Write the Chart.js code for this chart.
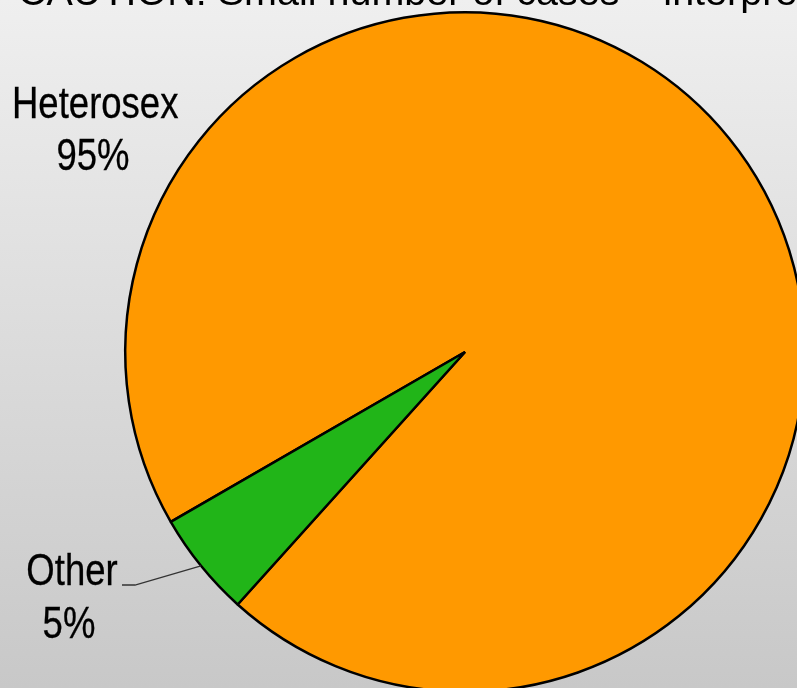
<!DOCTYPE html>
<html>
<head>
<meta charset="utf-8">
<script src="https://cdn.jsdelivr.net/npm/chart.js@4/dist/chart.umd.min.js"></script>
<style>
    html, body {
        margin: 0;
        padding: 0;
        width: 797px;
        height: 688px;
        overflow: hidden;
    }
    body {
        position: relative;
        background: linear-gradient(to bottom, #efefef 0%, #c8c8c8 100%);
        font-family: "Liberation Sans", Arial, sans-serif;
        color: #000;
    }
    #wrap {
        position: absolute;
        left: 0;
        top: 0;
        width: 820px;
        height: 700px;
    }
    .title {
        position: absolute;
        left: 18px;
        top: -28px;
        font-size: 39.5px;
        line-height: 39.5px;
        white-space: nowrap;
    }
    .lbl {
        position: absolute;
        width: 200px;
        text-align: center;
        font-size: 44px;
        line-height: 44px;
        white-space: nowrap;
        transform: scaleX(0.83);
        transform-origin: center;
        -webkit-text-stroke: 0.3px #000;
    }
</style>
</head>
<body>
<div id="wrap"><canvas id="pieChart"></canvas></div>
<div class="title">CAUTION: Small number of cases – interpret with caution</div>
<div class="lbl" id="lblName0" style="left:-5.5px; top:80.5px;"></div>
<div class="lbl" id="lblPct0" style="left:-7px; top:132.5px;"></div>
<div class="lbl" id="lblName1" style="left:-28px; top:547.5px;"></div>
<div class="lbl" id="lblPct1" style="left:-31px; top:600.5px;"></div>
<script>
// données du graphique
const categories = ['Heterosex', 'Other'];
const values = [95, 5];
const colors = ['#ff9900', '#21b518'];

// étiquettes (nom + pourcentage)
const total = values.reduce((a, b) => a + b, 0);
categories.forEach((c, i) => {
    document.getElementById('lblName' + i).textContent = c;
    document.getElementById('lblPct' + i).textContent = Math.round(values[i] / total * 100) + '%';
});

// trait de rappel pour "Other"
const leaderLine = {
    id: 'leaderLine',
    afterDraw(chart) {
        const arc = chart.getDatasetMeta(0).data[1];
        if (!arc) return;
        const mid = (arc.startAngle + arc.endAngle) / 2;
        const px = arc.x + Math.cos(mid) * arc.outerRadius;
        const py = arc.y + Math.sin(mid) * arc.outerRadius;
        const ctx = chart.ctx;
        ctx.save();
        ctx.strokeStyle = '#333';
        ctx.lineWidth = 1.3;
        ctx.beginPath();
        ctx.moveTo(px, py);
        ctx.lineTo(135, 585);
        ctx.lineTo(122, 585);
        ctx.stroke();
        ctx.restore();
    }
};

new Chart(document.getElementById('pieChart'), {
    type: 'pie',
    data: {
        labels: categories,
        datasets: [{
            data: values,
            backgroundColor: colors,
            borderColor: '#000',
            borderWidth: 2.5
        }]
    },
    options: {
        responsive: true,
        maintainAspectRatio: false,
        animation: false,
        rotation: 240,
        layout: {
            padding: { left: 124, top: 11, right: 14, bottom: 7 }
        },
        plugins: {
            legend: { display: false },
            tooltip: { enabled: false }
        }
    },
    plugins: [leaderLine]
});
</script>
</body>
</html>
